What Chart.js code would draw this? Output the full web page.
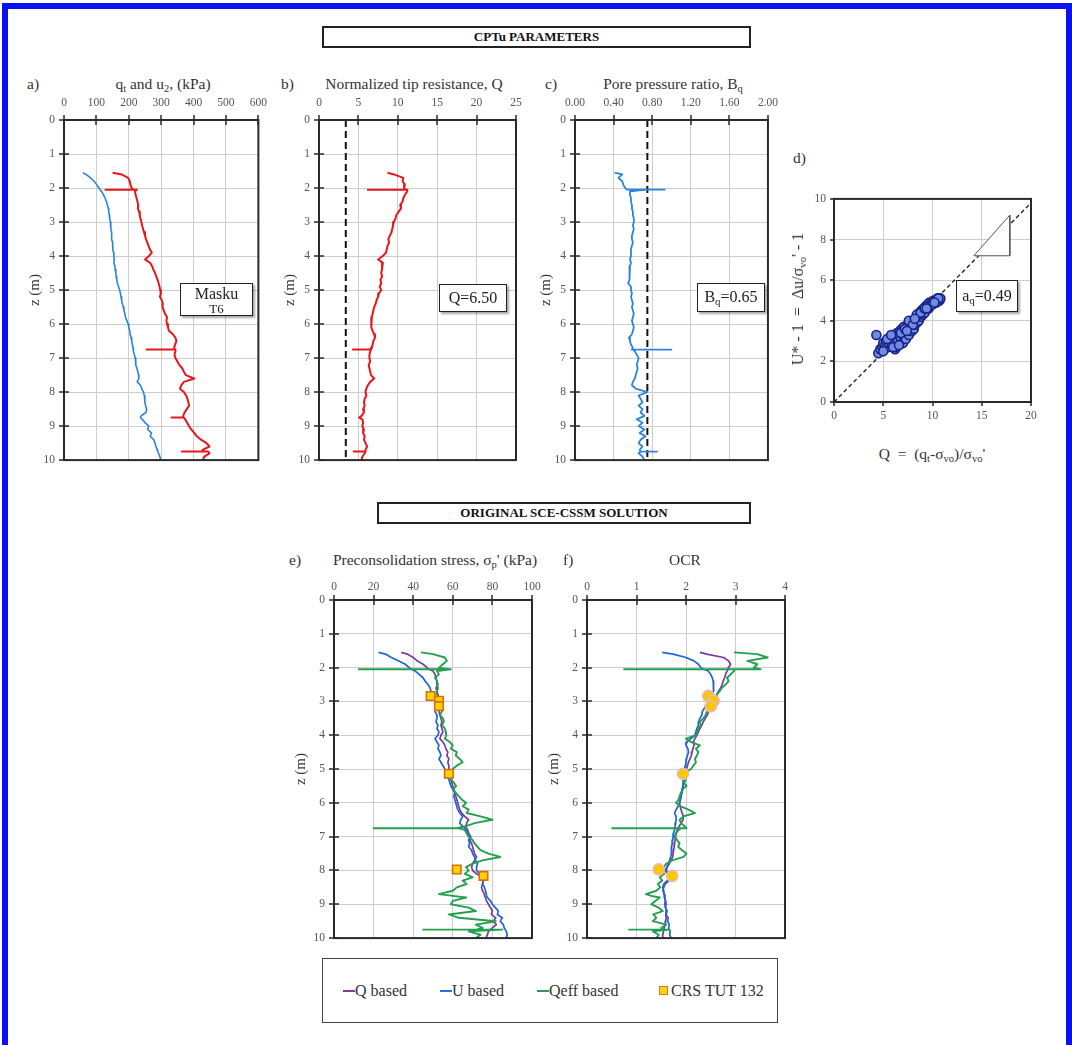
<!DOCTYPE html>
<html>
<head>
<meta charset="utf-8">
<title>CPTu parameters and SCE-CSSM solution</title>
<script src="https://cdn.jsdelivr.net/npm/chart.js@4.4.1/dist/chart.umd.min.js"></script>
<style>
  html, body { margin: 0; padding: 0; background: #fff; width: 1072px; height: 1045px; overflow: hidden; }
  body { position: relative; font-family: 'Liberation Serif', 'Times New Roman', serif; color: #333; }
  #frame { position: absolute; left: 2px; top: 3px; width: 1058px; height: 1100px; border: 6px solid #0a10f2; border-bottom: none; }
  canvas { position: absolute; z-index: 1; }
  .t { position: absolute; white-space: nowrap; font-size: 15.5px; line-height: 1; z-index: 2; }
  .c { transform: translateX(-50%); }
  .hdr { position: absolute; border: 2px solid #222; box-sizing: border-box; text-align: center; font-weight: bold;
         font-size: 13px; line-height: 18px; color: #111; z-index: 2; }
  .box { position: absolute; border: 1.5px solid #222; box-sizing: border-box; background: #fff; text-align: center;
         box-shadow: 2px 2px 2px rgba(0,0,0,.35); z-index: 3; color: #222; }
  .legendBox { position: absolute; border: 1.5px solid #444; box-sizing: border-box; z-index: 2; }
  .sw { position: absolute; width: 12px; height: 2px; z-index: 3; }
  sub { font-size: 68%; vertical-align: -0.3em; line-height: 0; }
  .rot { position: absolute; white-space: nowrap; font-size: 16px; line-height: 1; transform: translate(-50%, -50%) rotate(-90deg); z-index: 2; }
</style>
</head>
<body>
<div id="frame"></div>

<div class="hdr" style="left:322px;top:26px;width:429px;height:22px;">CPTu PARAMETERS</div>
<div class="hdr" style="left:377px;top:502px;width:374px;height:22px;">ORIGINAL SCE-CSSM SOLUTION</div>

<div class="t" style="left:27px;top:76px;">a)</div>
<div class="t c" style="left:163px;top:76px;">q<sub>t</sub> and u<sub>2</sub>, (kPa)</div>
<div class="t" style="left:281px;top:76px;">b)</div>
<div class="t c" style="left:414px;top:76px;">Normalized tip resistance, Q</div>
<div class="t" style="left:545px;top:76px;">c)</div>
<div class="t c" style="left:673px;top:76px;">Pore pressure ratio, B<sub>q</sub></div>
<div class="t" style="left:793px;top:150px;">d)</div>
<div class="t c" style="left:932px;top:446px;">Q &nbsp;=&nbsp; (q<sub>t</sub>-σ<sub>vo</sub>)/σ<sub>vo</sub>'</div>
<div class="rot" style="left:798px;top:299px;">U* - 1 &nbsp;=&nbsp; Δu/σ<sub>vo</sub>' - 1</div>

<div class="t" style="left:289px;top:552px;">e)</div>
<div class="t c" style="left:435px;top:552px;">Preconsolidation stress, σ<sub>p</sub>' (kPa)</div>
<div class="t" style="left:563px;top:552px;">f)</div>
<div class="t c" style="left:685px;top:552px;">OCR</div>

<div class="box" style="left:180px;top:283px;width:73px;height:33px;padding-top:2px;">
  <div style="font-size:16px;line-height:16px;">Masku</div>
  <div style="font-size:13px;line-height:13px;">T6</div>
</div>
<div class="box" style="left:439px;top:284px;width:68px;height:28px;font-size:16px;line-height:25px;">Q=6.50</div>
<div class="box" style="left:697px;top:283px;width:68px;height:29px;font-size:16px;line-height:26px;">B<sub>q</sub>=0.65</div>
<div class="box" style="left:956px;top:280px;width:62px;height:32px;font-size:16px;line-height:29px;">a<sub>q</sub>=0.49</div>

<div class="legendBox" style="left:322px;top:958px;width:456px;height:65px;"></div>
<div class="sw" style="left:343px;top:990px;background:#7a3a9e;"></div>
<div class="t" style="left:355px;top:983px;font-size:16px;">Q based</div>
<div class="sw" style="left:440px;top:990px;background:#2a72d6;"></div>
<div class="t" style="left:452px;top:983px;font-size:16px;">U based</div>
<div class="sw" style="left:537px;top:990px;background:#2a9a5a;"></div>
<div class="t" style="left:549px;top:983px;font-size:16px;">Qeff based</div>
<div style="position:absolute;left:659px;top:986px;width:7px;height:7px;background:#ffd21a;border:1.5px solid #e07800;z-index:3;"></div>
<div class="t" style="left:671px;top:983px;font-size:16px;">CRS TUT 132</div>

<script>
// ---- depth samples shared by every profile (m); spikes repeat the same depth ----
const depth = [
  1.55, 1.6, 1.7, 1.8, 1.9, 2.0,
  2.05, 2.05, 2.05,
  2.1, 2.2, 2.3, 2.4, 2.5, 2.6, 2.7, 2.8, 2.9, 3.0,
  3.1, 3.2, 3.3, 3.4, 3.5, 3.6, 3.7, 3.8, 3.9, 4.0,
  4.1, 4.2, 4.3, 4.4, 4.5, 4.6, 4.7, 4.8, 4.9, 5.0,
  5.1, 5.2, 5.3, 5.4, 5.5, 5.6, 5.7, 5.8, 5.9, 6.0,
  6.1, 6.2, 6.3, 6.4, 6.5, 6.6, 6.7,
  6.75, 6.75, 6.75,
  6.8, 6.9, 7.0, 7.1, 7.2, 7.3, 7.4, 7.5, 7.6, 7.7,
  7.8, 7.9, 8.0, 8.1, 8.2, 8.3, 8.4, 8.5, 8.6, 8.7,
  8.75, 8.75, 8.75,
  8.8, 8.9, 9.0, 9.1, 9.2, 9.3, 9.4, 9.5, 9.6, 9.7,
  9.75, 9.75, 9.75,
  9.8, 9.9, 10.0
];

// ---- a) corrected cone resistance and pore pressure (kPa) ----
const qt = [
  150, 178, 198, 203, 205, 209,
  214, 128, 225,
  219, 221, 224, 227, 229, 228, 232, 234, 236, 239,
  241, 244, 247, 250, 253, 257, 261, 265, 271, 262,
  250, 266, 272, 276, 281, 285, 289, 292, 295, 297,
  299, 296, 302, 305, 304, 308, 312, 318, 316, 318,
  321, 324, 336, 344, 347, 343, 340,
  343, 255, 343,
  344, 341, 344, 350, 356, 365, 370, 376, 402, 370,
  362, 358, 370, 377, 381, 384, 386, 379, 372, 368,
  368, 332, 370,
  374, 380, 386, 393, 402, 410, 423, 440, 449, 428,
  430, 364, 445,
  449, 433, 428
];
const u2 = [
  58, 68, 82, 93, 101, 108,
  111, 111, 111,
  116, 122, 127, 131, 134, 137, 138, 140, 141, 143,
  144, 145, 147, 146, 148, 150, 151, 150, 153, 154,
  155, 154, 157, 158, 160, 161, 163, 165, 168, 172,
  174, 176, 178, 180, 183, 185, 188, 190, 194, 198,
  200, 203, 204, 207, 209, 211, 213,
  214, 214, 214,
  215, 217, 220, 222, 221, 225, 228, 230, 231, 226,
  236, 240, 245, 248, 250, 249, 252, 255, 253, 238,
  236, 236, 236,
  242, 250, 262, 258, 270, 266, 277, 281, 284, 288,
  289, 289, 289,
  292, 296, 299
];

// ---- b) normalized tip resistance Q ----
const qNorm = [
  8.7, 9.5, 10.7, 10.6, 10.9, 10.8,
  11.0, 6.2, 11.2,
  11.2, 10.9, 10.7, 10.6, 10.3, 10.4, 10.1, 9.8, 9.7, 9.5,
  9.4, 9.3, 9.2, 9.0, 8.8, 8.9, 8.7, 8.6, 8.5, 8.1,
  7.5, 8.1, 8.0, 8.0, 7.9, 8.0, 7.8, 7.9, 7.7, 7.9,
  7.6, 7.5, 7.3, 7.2, 7.0, 6.9, 6.8, 6.7, 6.6, 6.6,
  6.7, 6.8, 7.0, 7.1, 6.9, 6.8, 6.7,
  6.6, 4.3, 6.6,
  6.5, 6.4, 6.4, 6.5, 6.3, 6.4, 6.5, 6.6, 7.0, 6.5,
  6.2, 6.0, 5.9, 6.0, 5.8, 5.7, 5.8, 5.6, 5.7, 5.4,
  5.1, 5.1, 5.1,
  5.5, 5.6, 5.5, 5.7, 5.6, 5.8, 5.7, 5.9, 6.1, 5.9,
  5.9, 4.4, 5.9,
  5.8, 5.5, 5.4
];
const qLimit = 3.4;

// ---- c) pore pressure ratio Bq ----
const bq = [
  0.41, 0.49, 0.45, 0.49, 0.50, 0.52,
  0.54, 0.93, 0.74,
  0.57, 0.57, 0.58, 0.58, 0.59, 0.59, 0.60, 0.60, 0.61, 0.61,
  0.60, 0.61, 0.60, 0.59, 0.59, 0.60, 0.59, 0.58, 0.58, 0.58,
  0.57, 0.58, 0.57, 0.56, 0.57, 0.56, 0.57, 0.55, 0.58, 0.58,
  0.59, 0.58, 0.59, 0.60, 0.59, 0.60, 0.61, 0.60, 0.59, 0.60,
  0.61, 0.60, 0.59, 0.56, 0.57, 0.58, 0.60,
  0.59, 1.00, 0.60,
  0.62, 0.64, 0.66, 0.65, 0.64, 0.65, 0.64, 0.63, 0.62, 0.60,
  0.59, 0.63, 0.75, 0.66, 0.68, 0.70, 0.66, 0.70, 0.68, 0.72,
  0.68, 0.68, 0.68,
  0.64, 0.70, 0.66, 0.72, 0.67, 0.73, 0.68, 0.66, 0.70, 0.67,
  0.68, 0.85, 0.68,
  0.66, 0.70, 0.72
];
const bqLimit = 0.75;

// ---- d) Q versus U* - 1 ----
const scatterQ = [
  4.5, 4.7, 4.9, 5.0, 5.1, 5.2, 5.3, 5.4, 5.5, 5.6,
  5.7, 5.8, 5.9, 6.0, 6.1, 6.2, 6.2, 6.3, 6.4, 6.5,
  6.6, 6.7, 6.8, 6.9, 7.0, 7.0, 7.1, 7.2, 7.3, 7.4,
  7.5, 7.6, 7.7, 7.8, 7.9, 8.0, 8.1, 8.2, 8.3, 8.4,
  8.5, 8.6, 8.7, 8.8, 8.9, 9.0, 9.1, 9.2, 9.3, 9.5,
  9.6, 9.7, 9.9, 10.1, 10.3, 10.5, 10.7, 10.8, 10.4, 4.3,
  5.0, 5.4, 5.8, 6.3, 6.8, 7.2, 7.6, 8.0, 8.4, 8.8,
  9.2, 9.6, 10.0, 10.6, 6.0, 6.6, 7.4, 8.2, 9.4, 10.2
];
const scatterU = [
  2.4, 2.6, 2.7, 2.9, 2.6, 2.8, 3.0, 2.7, 3.1, 2.9,
  3.2, 3.0, 2.8, 3.1, 3.3, 2.9, 2.6, 3.2, 3.4, 3.0,
  3.3, 3.5, 3.1, 3.6, 3.3, 2.9, 3.7, 3.4, 3.1, 3.6,
  3.8, 3.3, 3.7, 3.9, 3.5, 4.0, 3.6, 3.8, 4.1, 3.9,
  4.2, 4.0, 4.4, 4.2, 4.5, 4.3, 4.6, 4.4, 4.7, 4.8,
  4.6, 4.9, 4.9, 5.0, 5.0, 5.1, 5.0, 5.1, 4.9, 3.3,
  2.5, 3.1, 3.3, 2.7, 3.4, 3.6, 4.0, 3.8, 4.3, 4.4,
  4.6, 4.7, 4.8, 5.1, 2.7, 2.8, 3.5, 4.1, 4.6, 4.9
];
const aq = 0.49;
const slopeTriQ = [14.2, 17.85, 17.85, 14.2];
const slopeTriU = [7.2, 9.2, 7.2, 7.2];

// ---- e) preconsolidation stress (kPa) ----
const spQBased = [
  34, 37, 40, 42, 45, 47,
  48, 48, 48,
  50, 51, 51.5, 52, 52, 52.5, 52, 52.5, 53, 52.5,
  53, 53.5, 53, 53.5, 54, 54.5, 54, 54.5, 55, 54,
  53.5, 55, 56, 56.5, 57.5, 57, 58, 57.5, 58, 58,
  58.5, 58, 59, 59.5, 60, 60.5, 61, 61.5, 62, 62.5,
  63, 63.5, 64.5, 66, 68, 67, 66.5,
  67, 67, 67,
  67.5, 68, 69, 68.5, 69.5, 70, 70.5, 71, 72, 71,
  70, 69.5, 70, 72, 75, 75.5, 75, 74.5, 75, 76,
  76, 76, 76,
  76.5, 77, 78, 79, 80, 79.5, 81.7, 80.5, 82, 80,
  79, 79, 79,
  78, 77.5, 76.7
];
const spUBased = [
  22.5, 26, 29, 32.5, 36, 38,
  39, 39, 39,
  41, 43, 45, 46, 47.5, 48.5, 49, 50, 50.5, 51,
  51, 51.5, 51, 52, 52, 51.5, 52.5, 52, 53, 52.5,
  51, 52, 53, 52.5, 53.5, 54, 53, 54, 55, 56,
  56.5, 57, 58, 58.5, 59, 60, 61, 60.5, 61, 61.5,
  62, 62.5, 63.5, 65, 64, 63.5, 65,
  66, 66, 66,
  66.5, 67.5, 69, 68, 68.5, 68, 69.5, 70, 71, 71.5,
  72.5, 72, 72, 73.5, 75, 75.5, 75, 76, 76.5, 77,
  77, 77, 77,
  77.5, 79, 80, 81.5, 83, 82.5, 85, 84, 85.5, 86,
  86.5, 86.5, 86.5,
  87, 87.5, 87
];
const spQeffBased = [
  44, 50, 56, 57, 55, 53,
  58, 12.5, 59,
  52, 53, 51, 52, 52.5, 51.5, 52, 52, 53.5, 53,
  53.5, 54, 54.5, 53.5, 55, 55.5, 54.5, 56, 56.5, 56.7,
  56, 58.5, 60, 59, 62, 61.5, 63.5, 65, 62, 60,
  59, 59.5, 59, 60.5, 61.7, 60, 61.5, 63, 64.5, 66.7,
  65, 68, 67, 74, 80, 71, 66,
  62, 20, 63,
  66, 67, 68, 70, 71, 72.5, 74, 78, 84, 75,
  70, 66.7, 68, 66, 70, 65, 67, 62, 60, 53,
  60, 60, 60,
  66.7, 60, 59, 68, 71.7, 58, 63, 81.7, 71.7, 75,
  72, 45, 85,
  68, 74, 71.7
];

// ---- f) OCR ----
const ocrQBased = [
  2.28, 2.42, 2.76, 2.86, 2.90, 2.86,
  2.85, 2.85, 2.85,
  2.83, 2.80, 2.78, 2.75, 2.73, 2.70, 2.66, 2.62, 2.59, 2.56,
  2.53, 2.50, 2.46, 2.43, 2.39, 2.35, 2.32, 2.28, 2.25, 2.22,
  2.18, 2.15, 2.16, 2.14, 2.12, 2.11, 2.08, 2.05, 2.03, 2.01,
  2.00, 1.98, 1.97, 1.96, 1.94, 1.93, 1.92, 1.90, 1.89, 1.87,
  1.88, 1.90, 1.92, 1.95, 1.94, 1.90, 1.86,
  1.84, 1.84, 1.84,
  1.82, 1.80, 1.79, 1.78, 1.77, 1.76, 1.75, 1.74, 1.73, 1.70,
  1.66, 1.62, 1.57, 1.63, 1.67, 1.62, 1.55, 1.53, 1.55, 1.56,
  1.56, 1.56, 1.56,
  1.57, 1.58, 1.57, 1.59, 1.60, 1.59, 1.60, 1.59, 1.58, 1.56,
  1.55, 1.55, 1.55,
  1.54, 1.53, 1.53
];
const ocrUBased = [
  1.52, 1.74, 2.00, 2.16, 2.25, 2.30,
  2.36, 2.36, 2.36,
  2.45, 2.50, 2.53, 2.55, 2.56, 2.56, 2.55, 2.52, 2.49, 2.45,
  2.41, 2.37, 2.33, 2.32, 2.28, 2.26, 2.25, 2.22, 2.20, 2.18,
  2.10, 2.02, 2.00, 2.04, 2.05, 2.03, 2.01, 2.00, 1.99, 1.98,
  1.97, 1.96, 1.95, 1.94, 1.94, 1.92, 1.91, 1.90, 1.88, 1.87,
  1.84, 1.80, 1.77, 1.80, 1.80, 1.79, 1.78,
  1.77, 1.77, 1.77,
  1.76, 1.75, 1.74, 1.73, 1.72, 1.71, 1.71, 1.70, 1.69, 1.67,
  1.64, 1.62, 1.60, 1.68, 1.72, 1.66, 1.58, 1.55, 1.53, 1.56,
  1.58, 1.58, 1.58,
  1.57, 1.59, 1.60, 1.58, 1.62, 1.60, 1.64, 1.63, 1.66, 1.65,
  1.66, 1.66, 1.66,
  1.68, 1.67, 1.70
];
const ocrQeffBased = [
  2.97, 3.44, 3.65, 3.24, 3.44, 3.37,
  3.51, 0.75, 2.97,
  2.97, 2.90, 2.83, 2.86, 2.80, 2.72, 2.68, 2.62, 2.60, 2.56,
  2.52, 2.48, 2.42, 2.40, 2.35, 2.28, 2.30, 2.25, 2.22, 2.20,
  2.00, 2.10, 2.28, 2.20, 2.25, 2.22, 2.18, 2.20, 2.15, 2.10,
  1.98, 1.94, 2.00, 1.96, 2.01, 1.93, 1.90, 1.87, 1.85, 1.80,
  1.88, 2.05, 2.18, 1.95, 1.87, 1.90, 1.98,
  2.01, 0.51, 1.90,
  1.85, 1.80, 1.77, 1.82, 1.87, 1.84, 1.92, 2.01, 1.95, 1.72,
  1.60, 1.55, 1.50, 1.56, 1.47, 1.52, 1.43, 1.48, 1.40, 1.19,
  1.30, 1.30, 1.30,
  1.47, 1.38, 1.30, 1.45, 1.53, 1.34, 1.40, 1.33, 1.60, 1.50,
  1.55, 0.85, 1.67,
  1.33, 1.45, 1.40
];

// ---- CRS oedometer test TUT 132 ----
const crsDepth = [2.84, 2.98, 3.14, 5.14, 7.97, 8.16];
const crsSigmaP = [48.8, 53, 53, 58, 62, 75.5];
const crsOcr = [2.45, 2.56, 2.50, 1.94, 1.45, 1.72];

// ---- tick values ----
const depthTicks = [0, 1, 2, 3, 4, 5, 6, 7, 8, 9, 10];
const qtTicks = [0, 100, 200, 300, 400, 500, 600];
const qNormTicks = [0, 5, 10, 15, 20, 25];
const bqTicks = [0, 0.4, 0.8, 1.2, 1.6, 2.0];
const dQTicks = [0, 5, 10, 15, 20];
const dUTicks = [0, 2, 4, 6, 8, 10];
const sigmaPTicks = [0, 20, 40, 60, 80, 100];
const ocrTicks = [0, 1, 2, 3, 4];

// ---- layout: plot areas in page pixels ----
const plotAreas = {
  a: { x: 64, y: 120, w: 197, h: 348 },
  b: { x: 319, y: 120, w: 197, h: 348 },
  c: { x: 575, y: 120, w: 197, h: 348 },
  d: { x: 834, y: 192, w: 197, h: 210 },
  e: { x: 334, y: 600, w: 198, h: 346 },
  f: { x: 587, y: 600, w: 198, h: 346 }
};

const FONT = "'Liberation Serif', 'Times New Roman', serif";
const tickFont = { family: FONT, size: 11.5 };
const TICK_COLOR = '#555';
const GRID_COLOR = '#cdcdcd';

// Frame around the plot area plus short tick marks on the labelled axes
const frameTicks = {
  id: 'frameTicks',
  afterDatasetsDraw(chart, args, opts) {
    const { ctx, chartArea: a, scales } = chart;
    const inner = opts.inner ?? 5, outer = opts.outer ?? 5;
    ctx.save();
    ctx.strokeStyle = '#2a2a2a';
    ctx.lineWidth = 2;
    ctx.strokeRect(a.left, a.top, a.right - a.left, a.bottom - a.top);
    ctx.lineWidth = 1.5;
    ctx.beginPath();
    Object.values(scales).forEach(s => {
      s.ticks.forEach((t, i) => {
        const p = Math.round(s.getPixelForTick(i));
        if (s.position === 'top') { ctx.moveTo(p, a.top - outer); ctx.lineTo(p, a.top + inner); }
        else if (s.position === 'bottom') { ctx.moveTo(p, a.bottom + outer); ctx.lineTo(p, a.bottom - inner); }
        else if (s.position === 'left') { ctx.moveTo(a.left - outer, p); ctx.lineTo(a.left + inner, p); }
      });
    });
    ctx.stroke();
    ctx.restore();
  }
};

// Canvas placed so that its plot area lands on `area`; m = outer margins around the plot area
function placeCanvas(area, m) {
  const c = document.createElement('canvas');
  c.width = m.l + area.w + m.r;
  c.height = m.t + area.h + m.b;
  c.style.left = (area.x - m.l) + 'px';
  c.style.top = (area.y - m.t) + 'px';
  c.style.width = c.width + 'px';
  c.style.height = c.height + 'px';
  document.body.appendChild(c);
  return c;
}

const fixedTicks = values => scale => { scale.ticks = values.map(v => ({ value: v })); };

function depthAxis(width) {
  return {
    type: 'linear', position: 'left', reverse: true, min: 0, max: 10,
    afterBuildTicks: fixedTicks(depthTicks),
    afterFit: s => { s.width = width; },
    ticks: { font: tickFont, color: TICK_COLOR, padding: 9, autoSkip: false },
    grid: { color: GRID_COLOR, lineWidth: 1, drawTicks: false },
    border: { display: false },
    title: { display: true, text: 'z (m)', font: { family: FONT, size: 15 }, color: '#333', padding: { top: 2, bottom: 0 } }
  };
}

function valueAxis(position, min, max, values, size, pad, fmt) {
  return {
    type: 'linear', position, min, max,
    afterBuildTicks: fixedTicks(values),
    afterFit: s => { if (position === 'left') s.width = size; else s.height = size; },
    ticks: { font: tickFont, color: TICK_COLOR, padding: pad, autoSkip: false, maxRotation: 0,
             callback: fmt || (v => String(v)) },
    grid: { color: GRID_COLOR, lineWidth: 1, drawTicks: false },
    border: { display: false }
  };
}

function profile(label, values, color, width, order) {
  return {
    label, order, showLine: true, borderColor: color, borderWidth: width,
    pointRadius: 0, pointHoverRadius: 0, borderJoinStyle: 'round',
    data: depth.map((z, i) => ({ x: values[i], y: z }))
  };
}

function limitLine(label, value) {
  return {
    label, order: 5, showLine: true, borderColor: '#111', borderWidth: 2, borderDash: [7, 4],
    pointRadius: 0, data: [{ x: value, y: 0 }, { x: value, y: 10 }]
  };
}

// pad = layout padding (the parts of the margins not taken by the fixed-size axes)
function makeChart(area, m, pad, scales, datasets, frameOpts) {
  return new Chart(placeCanvas(area, m), {
    type: 'scatter',
    data: { datasets },
    options: {
      responsive: false, animation: false, devicePixelRatio: 1,
      layout: { padding: pad },
      plugins: { legend: { display: false }, tooltip: { enabled: false }, frameTicks: frameOpts || {} },
      scales
    },
    plugins: [frameTicks]
  });
}

const RED = '#e8161c';
const LIGHT_BLUE = '#2a84de';
const PURPLE = '#7a3a9e';
const U_BLUE = '#1f66d4';
const GREEN = '#22a050';

const topMargins = { l: 40, t: 24, r: 16, b: 8 };
const topPad = { left: 0, top: 0, right: 16, bottom: 8 };

// a) qt and u2
makeChart(plotAreas.a, topMargins, topPad, {
  x: valueAxis('top', 0, 600, qtTicks, 24, 10),
  y: depthAxis(40)
}, [
  profile('qt', qt, RED, 2, 1),
  profile('u2', u2, LIGHT_BLUE, 1.6, 2)
]);

// b) normalized tip resistance
makeChart(plotAreas.b, topMargins, topPad, {
  x: valueAxis('top', 0, 25, qNormTicks, 24, 10),
  y: depthAxis(40)
}, [
  profile('Q', qNorm, RED, 2, 1),
  limitLine('Q limit', qLimit)
]);

// c) pore pressure ratio
makeChart(plotAreas.c, topMargins, topPad, {
  x: valueAxis('top', 0, 2, bqTicks, 24, 10, v => Number(v).toFixed(2)),
  y: depthAxis(40)
}, [
  profile('Bq', bq, LIGHT_BLUE, 1.8, 1),
  limitLine('Bq limit', bqLimit)
]);

// d) U* - 1 against Q with the aq trend line
makeChart(plotAreas.d, { l: 30, t: 8, r: 14, b: 20 }, { left: 0, top: 8, right: 14, bottom: 0 }, {
  x: valueAxis('bottom', 0, 20, dQTicks, 20, 7),
  y: valueAxis('left', 0, 10, dUTicks, 30, 8)
}, [
  {
    label: 'slope', order: 0, showLine: true, fill: 'shape', backgroundColor: '#ffffff',
    borderColor: '#555', borderWidth: 1, pointRadius: 0,
    data: slopeTriQ.map((q, i) => ({ x: q, y: slopeTriU[i] }))
  },
  {
    label: 'CPTu', order: 1, pointRadius: 4.5, pointBorderWidth: 1.6,
    backgroundColor: '#6f8ddc', borderColor: '#18208c',
    data: scatterQ.map((q, i) => ({ x: q, y: scatterU[i] }))
  },
  {
    label: 'aq', order: 2, showLine: true, borderColor: '#222', borderWidth: 1.4, borderDash: [4, 3],
    pointRadius: 0, data: [{ x: 0, y: 0 }, { x: 20, y: 20 * aq }]
  }
], { inner: 0, outer: 4 });

const bottomMargins = { l: 44, t: 20, r: 16, b: 8 };
const bottomPad = { left: 0, top: 0, right: 16, bottom: 8 };

// e) preconsolidation stress
makeChart(plotAreas.e, bottomMargins, bottomPad, {
  x: valueAxis('top', 0, 100, sigmaPTicks, 20, 6),
  y: depthAxis(44)
}, [
  {
    label: 'CRS TUT 132', order: 0, pointStyle: 'rect', pointRadius: 6, pointBorderWidth: 1.6,
    backgroundColor: '#ffd400', borderColor: '#e06a12',
    data: crsDepth.map((z, i) => ({ x: crsSigmaP[i], y: z }))
  },
  profile('Qeff based', spQeffBased, GREEN, 1.9, 1),
  profile('U based', spUBased, U_BLUE, 1.7, 2),
  profile('Q based', spQBased, PURPLE, 1.7, 3)
]);

// f) OCR
makeChart(plotAreas.f, bottomMargins, bottomPad, {
  x: valueAxis('top', 0, 4, ocrTicks, 20, 6),
  y: depthAxis(44)
}, [
  {
    label: 'CRS TUT 132', order: 0, pointStyle: 'circle', pointRadius: 5.5, pointBorderWidth: 1.8,
    backgroundColor: '#f6c800', borderColor: '#f0b9a6',
    data: crsDepth.map((z, i) => ({ x: crsOcr[i], y: z }))
  },
  profile('Qeff based', ocrQeffBased, GREEN, 1.9, 1),
  profile('U based', ocrUBased, U_BLUE, 1.7, 2),
  profile('Q based', ocrQBased, PURPLE, 1.7, 3)
]);
</script>
</body>
</html>
